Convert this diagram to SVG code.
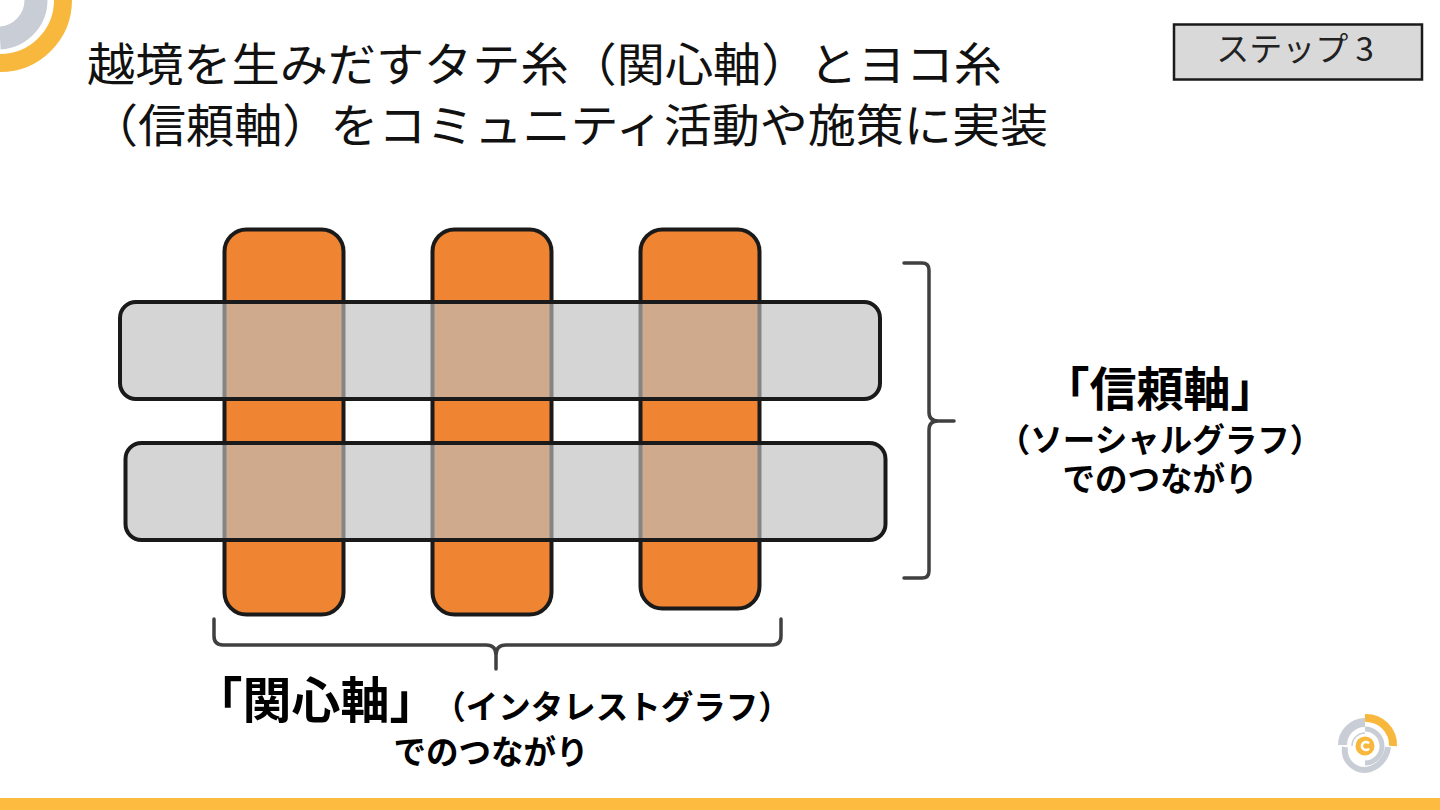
<svg xmlns="http://www.w3.org/2000/svg" width="1440" height="810" viewBox="0 0 1440 810">
<style>
text{font-family:"Noto Sans CJK JP","Noto Sans",sans-serif;fill:#000}
.t{font-size:46px;fill:#111}
.v{fill:#ef8533;stroke:#1a1a1a;stroke-width:4}
.h{fill:#bfbfbf;fill-opacity:.65;stroke:#1a1a1a;stroke-width:4}
.b{fill:none;stroke:#404040;stroke-width:3.500;stroke-linecap:round;stroke-linejoin:round}
.l1{font-size:47px;font-weight:700;text-anchor:middle}
.l2{font-size:32.500px;font-weight:700;text-anchor:middle}
</style>
<rect width="1440" height="810" fill="#fff"/>
<g id="corner" fill="none">
<path d="M0 63A63 63 0 0 0 63 0" stroke="#f8b83e" stroke-width="18"/>
<path d="M0 38A38 38 0 0 0 36 0" stroke="#c9ced6" stroke-width="23"/>
</g>
<rect id="footer" y="798" width="1440" height="12" fill="#fdbc40"/>
<g id="title">
<text class="t" x="87" y="81" textLength="915" lengthAdjust="spacingAndGlyphs">越境を生みだすタテ糸（関心軸）とヨコ糸</text>
<text class="t" x="90" y="142" textLength="958" lengthAdjust="spacingAndGlyphs">（信頼軸）をコミュニティ活動や施策に実装</text>
</g>
<g id="step">
<rect x="1174" y="24.500" width="248" height="55" fill="#d9d9d9" stroke="#1a1a1a" stroke-width="2.500"/>
<text x="1295" y="61" font-size="33" text-anchor="middle" style="fill:#222">ステップ 3</text>
</g>
<g id="v1"><rect class="v" x="224.500" y="229.500" width="119" height="385" rx="22"/></g>
<g id="v2"><rect class="v" x="432.500" y="229.500" width="119" height="385" rx="22"/></g>
<g id="v3"><rect class="v" x="640.500" y="229.500" width="119" height="379" rx="22"/></g>
<g id="h1"><rect class="h" x="120" y="302" width="760" height="97" rx="16"/></g>
<g id="h2"><rect class="h" x="125.500" y="443" width="760" height="97" rx="16"/></g>
<g id="connectors">
<path class="b" d="M904 263H922Q929 263 929 270V412Q929 421 938 421H954M938 421Q929 421 929 430V571Q929 578 922 578H904"/>
<path class="b" d="M214 619V636Q214 645 223 645H486Q496 645 496 655V669M496 655Q496 645 506 645H772Q781 645 781 636V619"/>
</g>
<g id="label-trust">
<text class="l1" x="1160" y="406">「信頼軸」</text>
<text class="l2"><tspan x="1160" y="452">（ソーシャルグラフ）</tspan><tspan x="1160" y="491">でのつながり</tspan></text>
</g>
<g id="label-interest">
<text class="l1" x="316" y="718" style="font-size:49px">「関心軸」</text>
<text class="l2" x="612" y="719">（インタレストグラフ）</text>
<text class="l2" x="491" y="764">でのつながり</text>
</g>
<g id="logo" fill="none">
<path d="M1365 718A27 27 0 0 1 1393 746" stroke="#f8b83e" stroke-width="8"/>
<path d="M1365 722.500A22.500 22.500 0 0 0 1342.500 745" stroke="#c9ced6" stroke-width="9"/>
<path d="M1345 747A20 20 0 0 0 1365 770A26 26 0 0 0 1388 747" stroke="#c9ced6" stroke-width="6"/>
<path d="M1365 729A17 17 0 0 1 1382 746A17 17 0 0 1 1365 763" stroke="#c9ced6" stroke-width="5"/>
<path d="M1365 733A13 13 0 0 0 1352 746" stroke="#c9ced6" stroke-width="1.500"/>
<circle cx="1365" cy="746" r="9.500" fill="#f8b83e"/>
<path d="M1369 743.500A4 4 0 1 0 1369 748.500" stroke="#fff" stroke-width="2.500"/>
</g>
</svg>
